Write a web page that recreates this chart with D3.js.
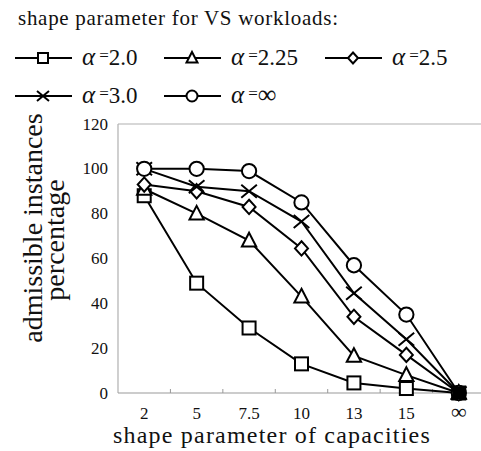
<!DOCTYPE html>
<html><head><meta charset="utf-8">
<script src="https://cdn.jsdelivr.net/npm/d3@7"></script>
<style>body{margin:0;background:#fff}svg{display:block}text{font-family:"Liberation Serif","Times New Roman",serif;fill:#111}</style>
</head><body><svg id="c" width="481" height="451"></svg>
<script>
const categories = ["2","5","7.5","10","13","15","∞"];
const seriesNames = ["2.0","2.25","2.5","3.0","∞"];
const alpha20  = [88, 49, 29, 13, 4.5, 2, 0];
const alpha225 = [91, 80, 68, 43, 16.5, 8, 0];
const alpha25  = [93, 90, 83, 64.5, 34, 17, 0];
const alpha30  = [100, 92, 90, 76.5, 44.5, 24, 0];
const alphaInf = [100, 100, 99, 85, 57, 35, 0];
const yTicks = [0, 20, 40, 60, 80, 100, 120];
const symbols = ["square","triangle","diamond","x","circle"];
const series = [alpha20, alpha225, alpha25, alpha30, alphaInf];

const svg = d3.select("#c");
const x = d3.scaleBand().domain(categories).range([118, 485]);
const y = d3.scaleLinear().domain([0, 120]).range([393, 124]);

svg.append("line").attr("x1",118).attr("x2",481).attr("y1",y(120)).attr("y2",y(120)).attr("stroke","#b0b0b0").attr("stroke-width",1.2);
svg.append("line").attr("x1",118).attr("x2",118).attr("y1",y(120)).attr("y2",y(0)).attr("stroke","#b0b0b0").attr("stroke-width",1.2);
svg.append("line").attr("x1",118).attr("x2",481).attr("y1",y(0)).attr("y2",y(0)).attr("stroke","#999").attr("stroke-width",1.2);
categories.slice(1).forEach(c=>{
  svg.append("line").attr("x1",x(c)).attr("x2",x(c)).attr("y1",y(0)-4).attr("y2",y(0)).attr("stroke","#999");
});
svg.selectAll(".yt").data(yTicks).enter().append("text")
  .attr("x",108).attr("y",d=>y(d)+5.5).attr("text-anchor","end").attr("font-size",17).text(d=>d);
svg.selectAll(".xt").data(categories).enter().append("text")
  .attr("x",d=>x(d)+x.bandwidth()/2).attr("y",419).attr("text-anchor","middle")
  .attr("font-size",d=>d==="∞"?22:17).text(d=>d);

function marker(g, type, cx, cy, s){
  if(type==="square") g.append("rect").attr("x",cx-s/2).attr("y",cy-s/2).attr("width",s).attr("height",s);
  else if(type==="triangle") g.append("path").attr("d",`M${cx},${cy-s*0.6}L${cx+s*0.55},${cy+s*0.45}L${cx-s*0.55},${cy+s*0.45}Z`);
  else if(type==="diamond") g.append("path").attr("d",`M${cx},${cy-s*0.55}L${cx+s*0.5},${cy}L${cx},${cy+s*0.55}L${cx-s*0.5},${cy}Z`);
  else if(type==="circle") g.append("circle").attr("cx",cx).attr("cy",cy).attr("r",s*0.55);
  else if(type==="x") g.append("path").attr("d",`M${cx-s*0.6},${cy-s*0.5}L${cx+s*0.6},${cy+s*0.5}M${cx-s*0.6},${cy+s*0.5}L${cx+s*0.6},${cy-s*0.5}`);
}

const line = d3.line().x((d,i)=>x(categories[i])+x.bandwidth()/2).y(d=>y(d));
series.forEach(s=>{
  svg.append("path").attr("d",line(s)).attr("fill","none").attr("stroke","#000").attr("stroke-width",2);
});
series.forEach((s,k)=>{
  const g = svg.append("g").attr("fill","#fff").attr("stroke","#000").attr("stroke-width",2);
  s.forEach((v,i)=>{
    marker(g, symbols[k], x(categories[i])+x.bandwidth()/2, y(v), 13);
  });
});
const last = categories[categories.length-1];
svg.append("rect").attr("x",x(last)+x.bandwidth()/2-6.5).attr("y",y(alpha20[6])-6.5).attr("width",13).attr("height",13).attr("fill","#000");

svg.append("text").attr("transform","translate(42,228) rotate(-90)").attr("text-anchor","middle").attr("font-size",28).text("admissible instances");
svg.append("text").attr("transform","translate(64,240) rotate(-90)").attr("text-anchor","middle").attr("font-size",28).text("percentage");
svg.append("text").attr("x",272).attr("y",443).attr("text-anchor","middle").attr("font-size",24).attr("letter-spacing",1.2).text("shape parameter of capacities");

svg.append("text").attr("x",18).attr("y",25).attr("font-size",21).attr("textLength",320).attr("lengthAdjust","spacing").text("shape parameter for VS workloads:");
const legPos = [[15,58],[164,58],[325,58],[15,96],[164,96]];
seriesNames.forEach((n,k)=>{
  const [lx,ly] = legPos[k];
  svg.append("line").attr("x1",lx).attr("x2",lx+57).attr("y1",ly).attr("y2",ly).attr("stroke","#000").attr("stroke-width",2);
  const g = svg.append("g").attr("fill","#fff").attr("stroke","#000").attr("stroke-width",2);
  marker(g, symbols[k], lx+28, ly, 10);
  const t = svg.append("text").attr("x",lx+67).attr("y",ly+7).attr("font-size",23);
  t.append("tspan").attr("font-style","italic").attr("font-size",25).text("α");
  t.append("tspan").attr("font-size",17).attr("dx",4).attr("dy",-4).text("=");
  t.append("tspan").attr("font-size",n==="∞"?26:23).attr("dy",4).text(n);
});
</script></body></html>
